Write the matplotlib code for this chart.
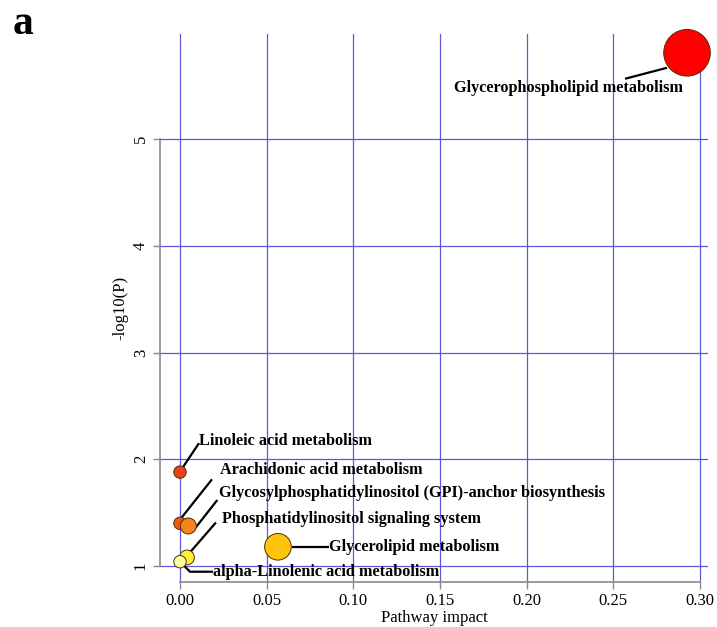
import matplotlib
matplotlib.use("Agg")
import matplotlib.pyplot as plt
import numpy as np

# ---- data ----
pathways = [
    "Glycerophospholipid metabolism",
    "Linoleic acid metabolism",
    "Arachidonic acid metabolism",
    "Glycosylphosphatidylinositol (GPI)-anchor biosynthesis",
    "Phosphatidylinositol signaling system",
    "alpha-Linolenic acid metabolism",
    "Glycerolipid metabolism",
]
impact = [0.2925, 0.0, 0.0, 0.0048, 0.0040, 0.0, 0.0565]
neglogp = [5.81, 1.88, 1.40, 1.375, 1.08, 1.04, 1.18]
radius_px = [23.3, 6.2, 6.2, 8.0, 7.4, 6.2, 13.3]
colors = ["#FF0000", "#E8401C", "#EE5A12", "#F2861C", "#FFF03C", "#FFFFA8", "#FFC40E"]

xticks = [0.00, 0.05, 0.10, 0.15, 0.20, 0.25, 0.30]
xticklabels = ["0.00", "0.05", "0.10", "0.15", "0.20", "0.25", "0.30"]
yticks = [1, 2, 3, 4, 5]

# label layout (pixel offsets from circle centre, image coords: +x right, +y down)
# (line start, line end, text anchor, ha)
label_layout = [
    ((-20, 15), (-62, 26), (-119, 35), "center"),
    ((3, -5), (19, -29), (19, -31), "left"),
    ((1, -5), (32, -44), (40, -53), "left"),
    ((7, 2), (29, -26), (31, -33), "left"),
    ((3, -5), (29, -35), (35, -38), "left"),
    ((3, 3), (10, 10), (33, 10), "left"),
    ((14, 0), (51, 0), (51, 0), "left"),
]

W, H = 717, 627
fig = plt.figure(figsize=(W / 100, H / 100), dpi=100)
serif = ["Liberation Serif", "DejaVu Serif"]

L, R, B, T = 160, 708, 582, 34
ax = fig.add_axes([L / W, 1 - B / H, (R - L) / W, (B - T) / H])
ax.set_xlim(-0.01154, 0.3046)
ax.set_ylim(0.85, 5.986)

gridc = "#5a5ad8"
for xv in xticks:
    ax.axvline(xv, color=gridc, lw=0.9, zorder=1)
for yv in yticks:
    ax.axhline(yv, color=gridc, lw=0.9, zorder=1)

sizes = [(2 * r * 0.72) ** 2 for r in radius_px]
ax.scatter(impact, neglogp, s=sizes, c=colors, edgecolors="#5a2a00",
           linewidths=0.7, zorder=4, clip_on=False)

fig.canvas.draw()
to_disp = ax.transData.transform
to_data = ax.transData.inverted().transform

for name, x, y, (ls, le, tp, ha) in zip(pathways, impact, neglogp, label_layout):
    cx, cy = to_disp((x, y))
    p1 = to_data((cx + ls[0], cy - ls[1]))
    p2 = to_data((cx + le[0], cy - le[1]))
    pt = to_data((cx + tp[0], cy - tp[1]))
    if name.startswith("alpha"):
        p3 = to_data((cx + tp[0], cy - tp[1]))
        ax.plot([p1[0], p2[0], p3[0]], [p1[1], p2[1], p3[1]], color="black", lw=1.6,
                zorder=3, solid_capstyle="butt", clip_on=False)
    else:
        ax.plot([p1[0], p2[0]], [p1[1], p2[1]], color="black", lw=1.6, zorder=3,
                solid_capstyle="butt", clip_on=False)
    ax.text(pt[0], pt[1], name, ha=ha, va="center", fontsize=11.7,
            fontweight="bold", family=serif, zorder=5)

for s in ["top", "right"]:
    ax.spines[s].set_visible(False)
ax.spines["left"].set_bounds(1, 5)
ax.spines["bottom"].set_bounds(0, 0.30)
for s in ["left", "bottom"]:
    ax.spines[s].set_color("#8a8a8a")
    ax.spines[s].set_linewidth(1.2)

ax.set_xticks(xticks)
ax.set_xticklabels(xticklabels, family=serif, fontsize=12)
ax.set_yticks(yticks)
ax.set_yticklabels([str(v) for v in yticks], family=serif, fontsize=12,
                   rotation=90, va="center")
ax.tick_params(axis="both", direction="out", length=5, color="#8a8a8a", width=1.0)
ax.tick_params(axis="x", pad=3)
ax.tick_params(axis="y", pad=3)

ax.set_xlabel("Pathway impact", family=serif, fontsize=12, labelpad=1)
ax.set_ylabel("-log10(P)", family=serif, fontsize=12, labelpad=3)

fig.text(13 / W, 1 - 24 / H, "a", family=serif, fontsize=30, fontweight="bold",
         ha="left", va="center")

fig.savefig("out.png", dpi=100)
